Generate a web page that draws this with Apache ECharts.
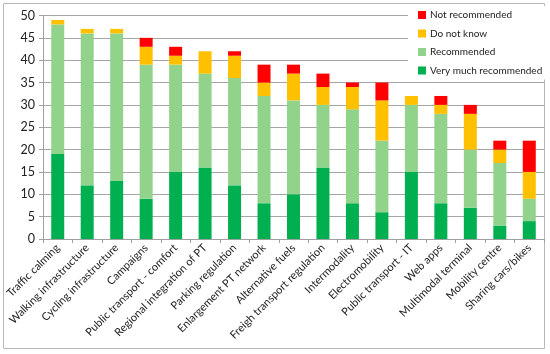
<!DOCTYPE html>
<html><head><meta charset="utf-8">
<script src="https://cdn.jsdelivr.net/npm/echarts@6/dist/echarts.min.js"></script>
<style>html,body{margin:0;padding:0;background:#fff}#c{width:550px;height:354px}</style>
</head><body><div id="c"></div>
<script>
const categories = ["Traffic calming","Walking infrastructure","Cycling infrastructure","Campaigns","Public transport - comfort","Regional integration of PT","Parking regulation","Enlargement PT network","Alternative fuels","Freigh transport regulation","Intermodality","Electromobility","Public transport - IT","Web apps","Multimodal terminal","Mobility centre","Sharing cars/bikes"];
const veryMuch = [19,12,13,9,15,16,12,8,10,16,8,6,15,8,7,3,4];
const recommended = [29,34,33,30,24,21,24,24,21,14,21,16,15,20,13,14,5];
const doNotKnow = [1,1,1,4,2,5,5,3,6,4,5,9,2,2,8,3,6];
const notRecommended = [0,0,0,2,2,0,1,4,2,3,1,4,0,2,2,2,7];
const yTicks = [0,5,10,15,20,25,30,35,40,45,50];

const font = "Lato, 'Open Sans', sans-serif";
const chart = echarts.init(document.getElementById('c'));
function s(name, data, color){
  return {name, type:'bar', stack:'a', data, barWidth:13, itemStyle:{color}};
}
chart.setOption({
  animation:false,
  graphic:[{type:'rect', shape:{x:3.5,y:3.5,width:541,height:345}, style:{fill:'none', stroke:'#b8b8b8', lineWidth:1}, z:-1}],
  grid:{left:43, right:6, top:15.5, bottom:115},
  legend:{
    orient:'vertical', left:408, top:6, itemWidth:8, itemHeight:8, itemGap:8.5,
    backgroundColor:'#fff', padding:[4,4,4,10],
    icon:'rect',
    textStyle:{fontFamily:font, fontSize:10, color:'#222', padding:[0,0,0,-1]},
    data:['Not recommended','Do not know','Recommended','Very much recommended']
  },
  xAxis:{
    type:'category', data:categories,
    axisLine:{lineStyle:{color:'#a0a0a0'}},
    axisTick:{show:true, alignWithLabel:false, length:4, lineStyle:{color:'#a0a0a0'}},
    axisLabel:{rotate:45, interval:0, fontFamily:font, fontSize:11, color:'#222', margin:7}
  },
  yAxis:{
    type:'value', min:yTicks[0], max:yTicks[yTicks.length-1], interval:5,
    axisLine:{show:true, lineStyle:{color:'#a0a0a0'}},
    axisTick:{show:true, length:4, lineStyle:{color:'#a0a0a0'}},
    splitLine:{lineStyle:{color:'#a6a6a6'}},
    axisLabel:{fontFamily:font, fontSize:12.5, color:'#222', margin:8}
  },
  series:[
    s('Very much recommended', veryMuch, '#00B050'),
    s('Recommended', recommended, '#92D38C'),
    s('Do not know', doNotKnow, '#FFC000'),
    s('Not recommended', notRecommended, '#FF0000')
  ]
});
</script></body></html>
